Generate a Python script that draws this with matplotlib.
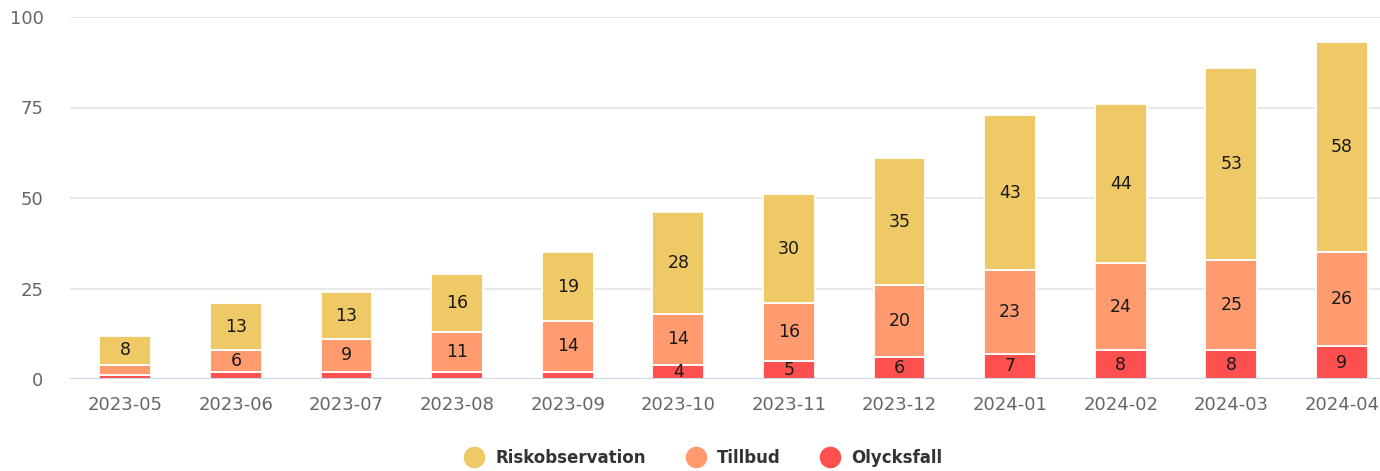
import matplotlib
matplotlib.use("Agg")
import matplotlib.pyplot as plt
from matplotlib.lines import Line2D
import numpy as np

plt.rcParams["font.family"] = ["DejaVu Sans"]

months = ["2023-05", "2023-06", "2023-07", "2023-08", "2023-09", "2023-10",
          "2023-11", "2023-12", "2024-01", "2024-02", "2024-03", "2024-04"]
olycksfall = [1, 2, 2, 2, 2, 4, 5, 6, 7, 8, 8, 9]
tillbud = [3, 6, 9, 11, 14, 14, 16, 20, 23, 24, 25, 26]
riskobservation = [8, 13, 13, 16, 19, 28, 30, 35, 43, 44, 53, 58]
series_names = ["Riskobservation", "Tillbud", "Olycksfall"]
colors = {"Riskobservation": "#EEC965", "Tillbud": "#FF9B6E", "Olycksfall": "#FF5050"}
yticks = [0, 25, 50, 75, 100]

W, H = 1380, 471
fig = plt.figure(figsize=(W / 100, H / 100), dpi=100)
left, right_px, top_px, bot_px = 70, 70 + 12 * 110.6, 17, 379
ax = fig.add_axes([left / W, 1 - bot_px / H, (right_px - left) / W, (bot_px - top_px) / H])

x = np.arange(len(months))
bw = 0.47
bottom = np.zeros(len(months))
stack = [("Olycksfall", olycksfall), ("Tillbud", tillbud), ("Riskobservation", riskobservation)]
for name, vals in stack:
    vals = np.array(vals, dtype=float)
    ax.bar(x, vals, bw, bottom=bottom, color=colors[name], edgecolor="white",
           linewidth=1.3, zorder=3)
    for xi, b, v in zip(x, bottom, vals):
        if v >= 4:
            ax.text(xi, b + v / 2, f"{int(v)}", ha="center", va="center",
                    fontsize=12.5, color="#1a1a1a", zorder=4)
    bottom += vals

ax.set_xlim(-0.5, len(months) - 0.5)
ax.set_ylim(0, 100)
ax.set_yticks(yticks)
ax.set_yticklabels([str(t) for t in yticks])
ax.set_xticks(x)
ax.set_xticklabels(months)
ax.tick_params(axis="y", length=0, pad=19, labelsize=13, labelcolor="#666666")
ax.tick_params(axis="x", length=0, pad=12, labelsize=13, labelcolor="#666666")
for t in yticks[1:]:
    ax.axhline(t, color="#e6e6e6", linewidth=1.3, zorder=1)
ax.axhline(0, color="#ccd6eb", linewidth=1.5, zorder=5)
for s in ax.spines.values():
    s.set_visible(False)

handles = [Line2D([0], [0], marker="o", linestyle="none", markersize=14.5,
                  markerfacecolor=colors[n], markeredgecolor=colors[n]) for n in series_names]
leg = fig.legend(handles, series_names, loc="center", bbox_to_anchor=(704 / W, 1 - 458 / H),
                 ncol=3, frameon=False, handlelength=1.0, handletextpad=0.75,
                 columnspacing=2.5, prop={"size": 12, "weight": "bold"})
for t in leg.get_texts():
    t.set_color("#333333")

fig.savefig("out.png", dpi=100)
